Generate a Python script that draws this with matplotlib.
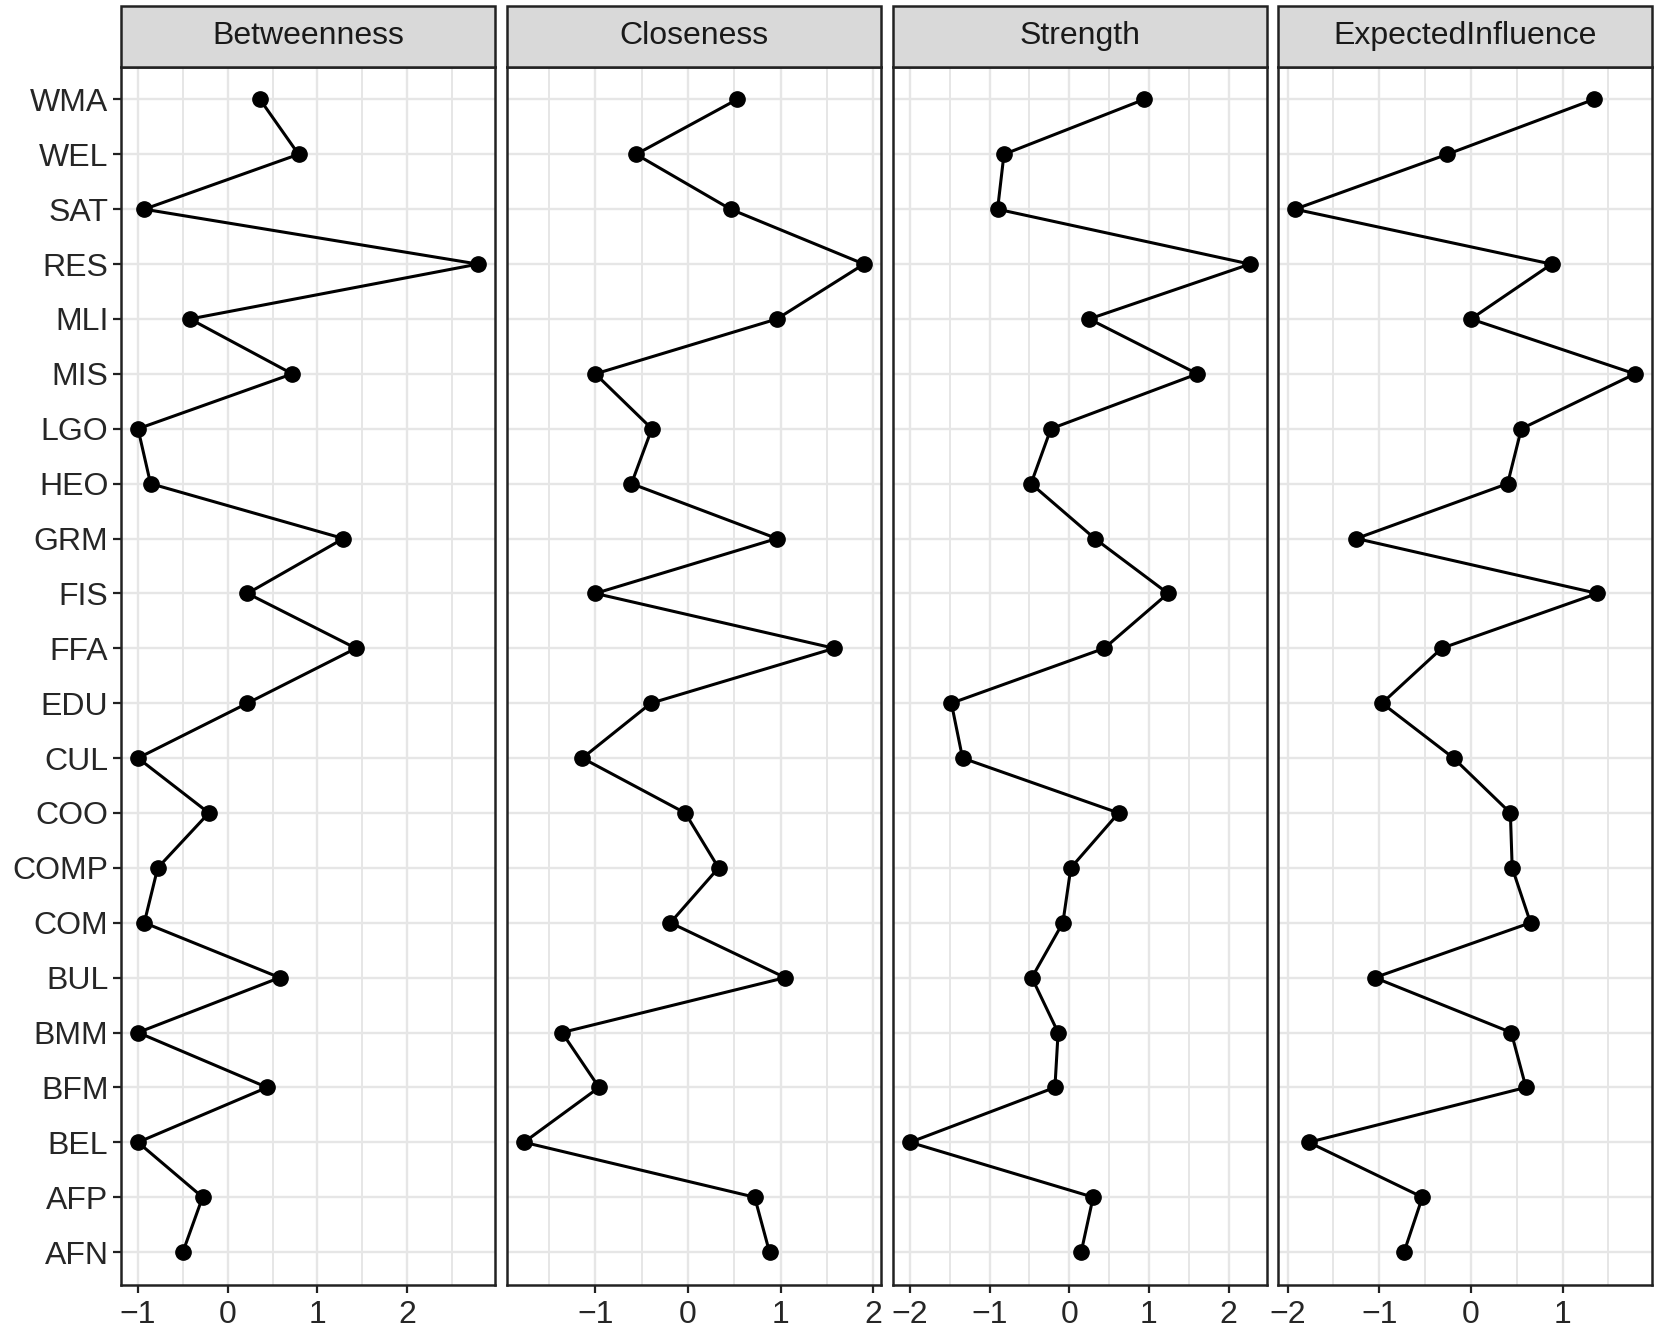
import numpy as np
import matplotlib
matplotlib.use("Agg")
import matplotlib.pyplot as plt
from matplotlib.patches import Rectangle

plt.rcParams['font.family'] = ['Liberation Sans', 'DejaVu Sans']

# Data (top to bottom)
nodes = ["WMA", "WEL", "SAT", "RES", "MLI", "MIS", "LGO", "HEO", "GRM", "FIS", "FFA",
         "EDU", "CUL", "COO", "COMP", "COM", "BUL", "BMM", "BFM", "BEL", "AFP", "AFN"]

betweenness = [0.36, 0.79, -0.93, 2.79, -0.42, 0.72, -1.00, -0.86, 1.29, 0.22, 1.43,
               0.22, -1.00, -0.21, -0.78, -0.93, 0.58, -1.00, 0.44, -1.00, -0.28, -0.50]
closeness = [0.53, -0.56, 0.46, 1.90, 0.96, -1.00, -0.39, -0.61, 0.96, -1.00, 1.58,
             -0.40, -1.14, -0.03, 0.33, -0.19, 1.05, -1.36, -0.96, -1.77, 0.72, 0.88]
strength = [0.94, -0.82, -0.90, 2.27, 0.25, 1.61, -0.23, -0.48, 0.32, 1.24, 0.44,
            -1.48, -1.34, 0.62, 0.02, -0.08, -0.47, -0.14, -0.18, -2.00, 0.30, 0.15]
expected_influence = [1.34, -0.26, -1.92, 0.88, 0.00, 1.79, 0.55, 0.40, -1.25, 1.38, -0.32,
                      -0.97, -0.19, 0.43, 0.45, 0.65, -1.05, 0.44, 0.60, -1.77, -0.53, -0.73]

panel_titles = ["Betweenness", "Closeness", "Strength", "ExpectedInfluence"]
panel_values = [betweenness, closeness, strength, expected_influence]
panel_ticks = [[-1, 0, 1, 2], [-1, 0, 1, 2], [-2, -1, 0, 1, 2], [-2, -1, 0, 1]]

W, H = 1654, 1333
fig = plt.figure(figsize=(W / 100, H / 100), dpi=100)

lefts = [121, 507, 893, 1278]
pw = 374
ptop, pbot = 66.5, 1285
strip_h = 61

grid_col = "#E6E6E6"
border_col = "#222222"
text_col = "#262626"
fs = 23

y = np.arange(len(nodes))
for i, (title, vals, ticks) in enumerate(zip(panel_titles, panel_values, panel_ticks)):
    ax = fig.add_axes([lefts[i] / W, (H - pbot) / H, pw / W, (pbot - ptop) / H])
    v = np.array(vals)
    lo, hi = v.min(), v.max()
    pad = 0.05 * (hi - lo)

    # grid
    ax.set_xticks(ticks)
    minors = [t + 0.5 for t in range(int(np.floor(lo)) - 1, int(np.ceil(hi)) + 1)]
    ax.set_xticks(minors, minor=True)
    ax.grid(True, which='major', color=grid_col, linewidth=1.7)
    ax.grid(True, which='minor', axis='x', color=grid_col, linewidth=1.4)
    ax.set_axisbelow(True)

    ax.plot(vals, y, color='black', linewidth=2.2, marker='o', markersize=11, zorder=3)

    ax.set_yticks(y)
    ax.set_xlim(lo - pad, hi + pad)
    ax.set_ylim(len(nodes) - 1 + 0.6, -0.6)
    if i == 0:
        ax.set_yticklabels(nodes)
        ax.tick_params(axis='y', length=6, width=1.6, color=border_col, labelsize=fs,
                       labelcolor=text_col, pad=3)
    else:
        ax.set_yticklabels([])
        ax.tick_params(axis='y', length=0)
    ax.set_xticklabels([str(t).replace('-', '\u2212') for t in ticks])
    ax.tick_params(axis='x', which='major', length=6, width=1.6, color=border_col,
                   labelsize=fs, labelcolor=text_col, pad=5)
    ax.tick_params(axis='x', which='minor', length=0)

    for sp in ax.spines.values():
        sp.set_color(border_col)
        sp.set_linewidth(1.8)

    # strip
    sh = strip_h / (pbot - ptop)
    rect = Rectangle((0, 1), 1, sh, transform=ax.transAxes, facecolor="#D9D9D9",
                     edgecolor=border_col, linewidth=1.8, clip_on=False, zorder=5)
    ax.add_patch(rect)
    ax.text(0.5, 1 + sh / 2, title, transform=ax.transAxes, ha='center', va='center',
            fontsize=fs, color="#1A1A1A", zorder=6)

fig.savefig("out.png", dpi=100, facecolor='white')
